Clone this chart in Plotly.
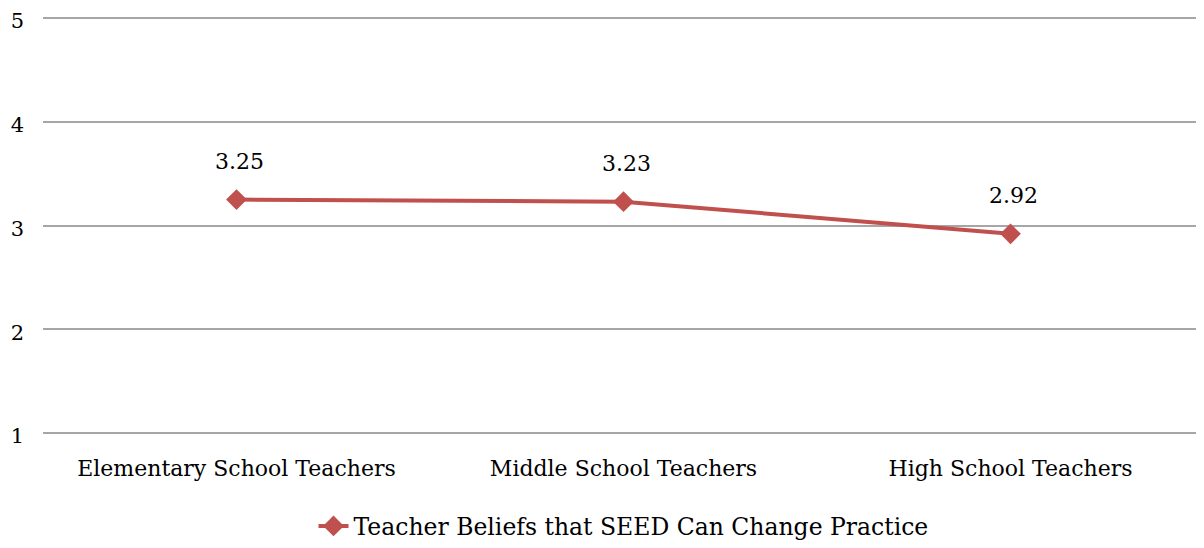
import plotly.graph_objects as go

categories = ["Elementary School Teachers", "Middle School Teachers", "High School Teachers"]
values = [3.25, 3.23, 2.92]
labels = ["3.25", "3.23", "2.92"]
series_name = "Teacher Beliefs that SEED Can Change Practice"
y_ticks = [1, 2, 3, 4, 5]

FONT = "DejaVu Serif"
RED = "#c0504d"

fig = go.Figure()
fig.add_trace(go.Scatter(
    x=categories, y=values, mode="lines+markers", name=series_name,
    line=dict(color=RED, width=4),
    marker=dict(symbol="diamond", size=16, color=RED),
))
for c, v, t in zip(categories, values, labels):
    fig.add_annotation(x=c, y=v, text=t, showarrow=False, yshift=38, xshift=3,
                       font=dict(family=FONT, size=22, color="#000"))

fig.update_layout(
    width=1196, height=532,
    margin=dict(l=35, r=0, t=8, b=105, autoexpand=False),
    plot_bgcolor="white", paper_bgcolor="white",
    font=dict(family=FONT, size=22, color="#000"),
    showlegend=True,
    legend=dict(orientation="h", x=0.5, xanchor="center", y=-0.165, yanchor="top",
                font=dict(family=FONT, size=23.5)),
    xaxis=dict(range=[-0.5, 2.5], showgrid=False, showline=False, ticks="",
               automargin=False, ticklabelstandoff=18,
               tickfont=dict(family=FONT, size=22)),
    yaxis=dict(range=[0.98, 5.02], tickvals=y_ticks, showgrid=True, gridcolor="#a6a6a6",
               gridwidth=2, zeroline=False, showline=False, ticks="",
               automargin=False, ticklabelstandoff=18, ticklabeloverflow="allow",
               ticklabelshift=3,
               tickfont=dict(family=FONT, size=21)),
)
fig.write_html("out.html")
